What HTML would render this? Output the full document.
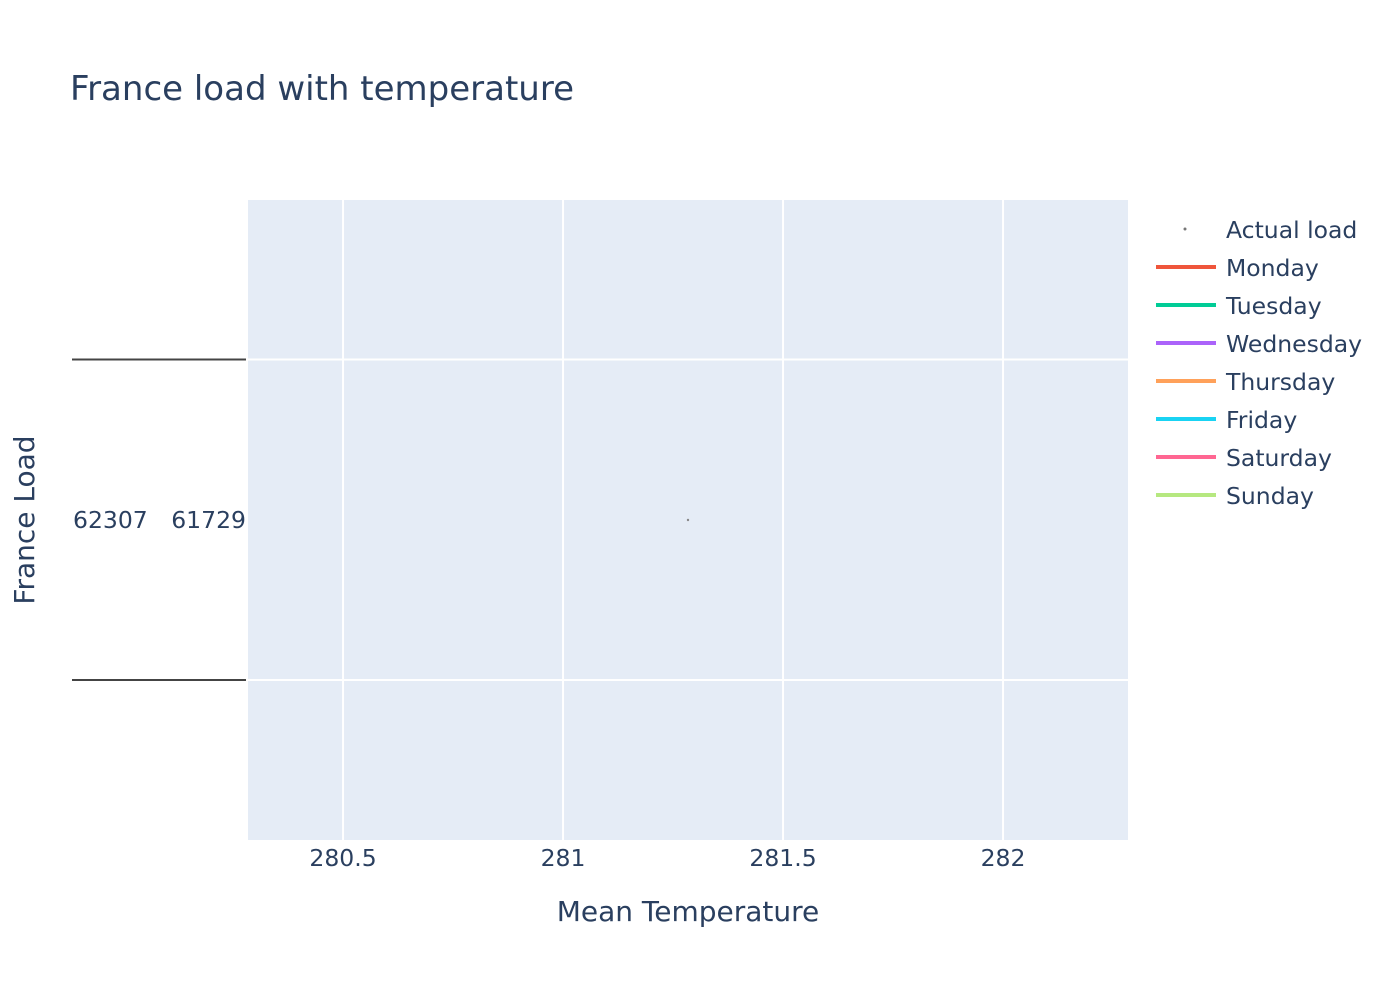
<!DOCTYPE html>
<html><head><meta charset="utf-8"><style>
body{margin:0;background:#fff}
svg text{font-family:"DejaVu Sans","Liberation Sans",sans-serif;fill:#2a3f5f}
</style></head><body>
<svg id="chart" width="1400" height="1000">
<rect width="1400" height="1000" fill="#fff"/>
<text x="70" y="100" font-size="34">France load with temperature</text>
<rect x="248" y="200" width="880" height="640" fill="#e5ecf6"/>
<g id="grid"></g>
<g id="xticks"></g>
<line x1="72" y1="359.5" x2="246" y2="359.5" stroke="#444" stroke-width="2"/>
<line x1="72" y1="680" x2="246" y2="680" stroke="#444" stroke-width="2"/>
<text x="73" y="528" font-size="23.5">62307</text>
<text x="246" y="528" font-size="23.5" text-anchor="end">61729</text>
<text x="688" y="921" font-size="28" text-anchor="middle">Mean Temperature</text>
<text transform="translate(34,520) rotate(-90)" font-size="28" text-anchor="middle">France Load</text>
<g id="points"></g>
<g id="legend"></g>
</svg>
<script>
const xTicks=[280.5,281,281.5,282];
const hGridY=[359.5,680];
const tempValues=[281.284];
const seriesNames=["Monday","Tuesday","Wednesday","Thursday","Friday","Saturday","Sunday"];
const seriesColors=["#ef553b","#00cc96","#ab63fa","#ffa15a","#19d3f3","#ff6692","#b6e880"];
const NS="http://www.w3.org/2000/svg";
function xs(v){return 248+(v-280.284)/(282.284-280.284)*880;}
function mk(t,a,p){const e=document.createElementNS(NS,t);for(const k in a)e.setAttribute(k,a[k]);p.appendChild(e);return e;}
const grid=document.getElementById('grid'),xt=document.getElementById('xticks');
xTicks.forEach(v=>{
 const l=mk('line',{x1:xs(v),x2:xs(v),y1:200,y2:840,stroke:'#fff','stroke-width':2},grid);
 
 
 const t=mk('text',{x:xs(v),y:866,'font-size':23.5,'text-anchor':'middle'},xt);
 t.textContent=String(v);
 
 
});
hGridY.forEach(y=>{
 const l=mk('line',{x1:248,x2:1128,y1:y,y2:y,stroke:'#fff','stroke-width':2},grid);
 
 
});
const pts=document.getElementById('points');
tempValues.forEach(v=>{
 const c=mk('circle',{cx:xs(v),cy:520,r:1.2,fill:'#888'},pts);
 
 
});
const lg=document.getElementById('legend');
let d=mk('circle',{cx:1185,cy:229,r:1.5,fill:'#777'},lg);


let t0=mk('text',{x:1226,y:238,'font-size':23.5},lg);t0.textContent='Actual load';


seriesNames.forEach((n,i)=>{
 const y=267+i*38;
 const l=mk('line',{x1:1156,x2:1216,y1:y,y2:y,stroke:seriesColors[i],'stroke-width':4},lg);
 
 
 const t=mk('text',{x:1226,y:y+9,'font-size':23.5},lg);t.textContent=n;
 
 
});
</script>
</body></html>
